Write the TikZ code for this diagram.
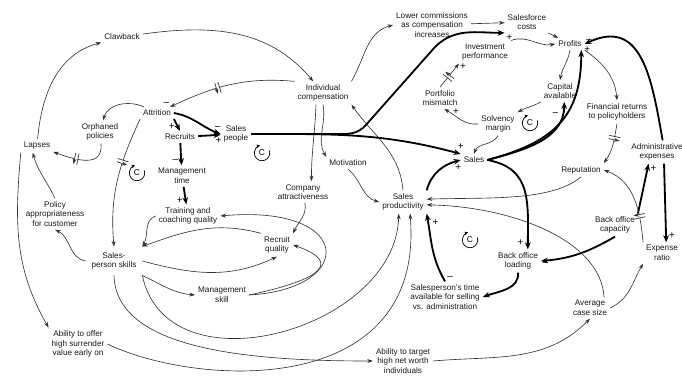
\documentclass[tikz,border=0pt]{standalone}
\usepackage{fontspec}
\setmainfont{Liberation Sans}
\usetikzlibrary{arrows.meta,decorations.markings}
\tikzset{
  var/.style={font=\fontsize{5.8}{6.8}\selectfont,align=center,inner sep=2pt,text=black!90},
  lk/.style={draw=black!80,line width=0.45pt,-{Stealth[length=4pt,width=2.8pt]}},
  lkb/.style={draw=black,line width=1.3pt,-{Stealth[length=5pt,width=4pt]}},
  sgn/.style={font=\fontsize{7}{7}\selectfont,inner sep=0.5pt},
  delay/.style={postaction={decorate,decoration={markings,mark=at position #1 with {\fill[white](-1.2pt,-4pt) rectangle (1.2pt,4pt);\draw[line width=0.5pt](-1.2pt,-4pt)--(-1.2pt,4pt)(1.2pt,-4pt)--(1.2pt,4pt);}}}},
  delay/.default=0.5,
  loopc/.style={font=\fontsize{6}{6}\selectfont,inner sep=0pt}
}
\newcommand{\balloop}[2]{\draw[line width=0.5pt,-{Stealth[length=2.5pt,width=2.5pt]}] (#1) ++(20:5.5pt) arc[start angle=20,end angle=-255,radius=5.5pt];\node[loopc] (#2) at (#1) {C};}
\begin{document}
\begin{tikzpicture}[x=0.025cm,y=0.025cm]
\useasboundingbox (0,0) rectangle (682,-376);
\node[var] (clawback) at (122,-37) {Clawback};
\node[var] (lowercomm) at (432,-25) {Lower commissions\\as compensation\\increases};
\node[var] (sfcosts) at (527,-22) {Salesforce\\costs};
\node[var] (profits) at (570,-44) {Profits};
\node[var] (invperf) at (485,-52) {Investment\\performance};
\node[var] (indcomp) at (323,-93) {Individual\\compensation};
\node[var] (mismatch) at (440,-98) {Portfolio\\mismatch};
\node[var] (capital) at (560,-91) {Capital\\available};
\node[var] (attrition) at (157,-113) {Attrition};
\node[var] (orphaned) at (100,-132) {Orphaned\\policies};
\node[var] (lapses) at (37,-146) {Lapses};
\node[var] (recruits) at (180,-137) {Recruits};
\node[var] (salespeople) at (236,-134) {Sales\\people};
\node[var] (solvency) at (498,-124) {Solvency\\margin};
\node[var] (finret) at (617,-112) {Financial returns\\to policyholders};
\node[var] (adminexp) at (657,-152) {Administrative\\expenses};
\node[var] (sales) at (474,-160) {Sales};
\node[var] (motivation) at (348,-163) {Motivation};
\node[var] (reputation) at (581,-170) {Reputation};
\node[var] (mgmttime) at (182,-176) {Management\\time};
\node[var] (company) at (303,-192) {Company\\attractiveness};
\node[var] (salesprod) at (403,-202) {Sales\\productivity};
\node[var] (policy) at (55,-214) {Policy\\appropriateness\\for customer};
\node[var] (training) at (188,-216) {Training and\\coaching quality};
\node[var] (bocap) at (615,-225) {Back office\\capacity};
\node[var] (recqual) at (277,-245) {Recruit\\quality};
\node[var,inner sep=4pt] (skills) at (114,-261) {Sales-\\person skills};
\node[var] (boload) at (518,-261) {Back office\\loading};
\node[var] (expratio) at (662,-253) {Expense\\ratio};
\node[var] (mgmtskill) at (222,-295) {Management\\skill};
\node[var] (sptime) at (445,-297) {Salesperson's time\\available for selling\\vs. administration};
\node[var] (avgcase) at (590,-308) {Average\\case size};
\node[var] (offer) at (78,-344) {Ability to offer\\high surrender\\value early on};
\node[var] (target) at (403,-361) {Ability to target\\high net worth\\individuals};
\balloop{137,-173}{c1}
\balloop{262,-153}{c2}
\balloop{530,-123}{c3}
\balloop{470,-240}{c4}
\draw[lk] (lapses) to[out=85,in=195] (clawback);
\draw[lk] (clawback) to[out=8,in=130] (indcomp);
\draw[lk,delay=0.6] (indcomp.north west) to[out=175,in=25] node[sgn,pos=1,above left=0pt]{\textendash} (attrition);
\draw[lk] (attrition) to[out=155,in=75] (orphaned);
\draw[lk,delay=0.6] (orphaned) to[out=-85,in=-20,looseness=1.3] (lapses);
\draw[lkb] (attrition.south east) -- node[sgn,pos=0.6,left=1pt]{+} (recruits.north);
\draw[lkb] (attrition.east) to[out=-10,in=160] node[sgn,pos=0.95,above=1pt]{\textendash} (salespeople.west);
\draw[lkb] (recruits) -- node[sgn,pos=0.9,below=1pt]{+} (salespeople);
\draw[lkb] (recruits) -- node[sgn,pos=0.8,left=1pt]{\textendash} (mgmttime);
\draw[lkb] (mgmttime) -- node[sgn,pos=0.8,left=1pt]{+} (training);
\draw[lk,delay=0.35] (attrition.south west) to[out=-115,in=95] (skills.north);
\draw[lk] (lapses.south west) to[out=-95,in=120] (offer.north west);
\draw[lk] (policy.north) to[out=115,in=-75] ([xshift=-3pt]lapses.south);
\draw[lk] (skills.west) to[out=170,in=-25] (policy.south);
\draw[lk] (training.west) to[out=200,in=60] (skills.north east);
\draw[lk] (recqual.north west) to[out=165,in=20] (skills.north east);
\draw[lk] (skills.east) to[out=-15,in=205] (recqual.south);
\draw[lk] (skills.south east) to[out=-25,in=175] (mgmtskill.west);
\draw[lk] (mgmtskill.east) .. controls +(108,6) and +(134,12) .. (training.east);
\draw[lk] (mgmtskill.east) .. controls +(95,20) and +(35,-12) .. (recqual.east);
\draw[lk] (company) to[out=-80,in=65] (recqual.north east);
\draw[lk] ([xshift=-5pt]indcomp.south) to[out=-92,in=90] ([xshift=6pt]company.north);
\draw[lk] (indcomp.south) to[out=-80,in=120] (motivation.north west);
\draw[lk] (motivation.south) to[out=-40,in=165] (salesprod.west);
\draw[lk] (salesprod.north) to[out=95,in=-55] (indcomp.south east);
\draw[lk] (indcomp.north east) to[out=60,in=195] (lowercomm.west);
\draw[lk] (lowercomm) -- (sfcosts);
\draw[lkb] (salespeople.east) -- (342,-134) to[out=0,in=225] (365,-126) -- (435,-47) to[out=45,in=180] node[sgn,pos=1,below right=0pt]{+} (sfcosts.south west);
\draw[lkb] (salespeople.east) to[out=0,in=165] node[sgn,pos=1,above=2pt]{+} (sales.north west);
\draw[lk] (sfcosts) -- (profits);
\draw[lk] (invperf.north east) to[out=20,in=190] (profits.west);
\draw[lk] (profits.south) to[out=-100,in=80] (capital.north);
\draw[lk] (profits.south east) to[out=-35,in=95] (finret.north);
\draw[lk,delay=0.35] (finret.south) to[out=-100,in=55] (reputation.north east);
\draw[lkb] ([xshift=4pt]adminexp.north) to[out=100,in=25,looseness=1.3] node[sgn,pos=1,above right=0pt]{\textendash} (profits.east);
\draw[lkb] ([xshift=5pt]adminexp.south) -- node[sgn,pos=0.92,right=1pt]{+} ([xshift=3pt]expratio.north);
\draw[lkb] (bocap.north east) -- node[sgn,pos=0.9,right=1pt]{+} ([xshift=-6pt]adminexp.south);
\draw[lkb] (bocap.south) to[out=-150,in=5] node[sgn,pos=1,below right=0pt]{\textendash} (boload.east);
\draw[lkb] (sales.east) to[out=-10,in=90,looseness=1.2] node[sgn,pos=0.95,left=2pt]{+} ([xshift=7pt]boload.north);
\draw[lkb] (boload.south) to[out=-85,in=20] (sptime.east);
\draw[lkb] (sptime.north) to[out=120,in=-80] node[sgn,pos=0.05,right=2pt]{\textendash} node[sgn,pos=0.88,right=2pt]{+} (salesprod.south east);
\draw[lkb] (salesprod.north east) to[out=75,in=195] node[sgn,pos=0.95,below=2pt]{+} (sales.west);
\draw[lkb] (sales.east) to[out=15,in=-90,looseness=1.2] node[sgn,pos=1,right=1pt]{+} ([xshift=8pt]profits.south);
\draw[lkb] (sales.east) to[out=15,in=-90] node[sgn,pos=0.88,left=2pt]{\textendash} ([xshift=3pt]capital.south);
\draw[lk] (capital.south west) to[out=210,in=30] (solvency.north east);
\draw[lk] (solvency.south) to[out=-120,in=70] (sales.north);
\draw[lk] (solvency.west) to[out=185,in=-30] node[sgn,pos=0.65,above=1pt]{+} ([xshift=3pt]mismatch.south);
\draw[lk,delay=0.45] (mismatch.north) -- node[sgn,pos=0.85,right=2pt]{+} (invperf.south west);
\draw[lk] (reputation.south) .. controls +(-30,-25) and +(60,2) .. ([yshift=2pt]salesprod.east);
\draw[lk] ([xshift=10pt]avgcase.north) .. controls +(-3,56) and +(88,-2) .. ([yshift=-2pt]salesprod.east);
\draw[lk] (avgcase.east) to[out=25,in=-120] (expratio.south west);
\draw[lk,delay=0.3] (expratio.north west) to[out=95,in=-20] (reputation.east);
\draw[lk] (target.east) to[out=5,in=-135] (avgcase.south);
\draw[lk] (skills.south) .. controls +(2,-74) and +(-125,0) .. (target.west);
\draw[lk] (skills.south east) .. controls +(25,-118) and +(-3,-116) .. ([xshift=-3pt]salesprod.south);
\draw[lk] (offer.east) .. controls +(90,-43) and +(15,-186) .. ([xshift=5pt]salesprod.south);
\end{tikzpicture}
\end{document}
